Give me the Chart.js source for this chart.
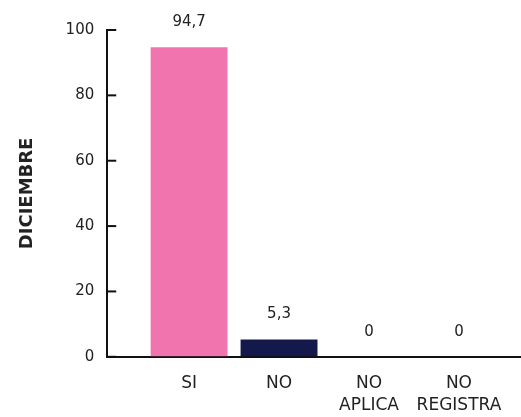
<!DOCTYPE html>
<html>
<head>
<meta charset="utf-8">
<script src="https://cdn.jsdelivr.net/npm/chart.js@4.4.0/dist/chart.umd.min.js"></script>
<style>
  html, body { margin: 0; padding: 0; background: #ffffff; }
  #wrap { width: 521px; height: 417px; }
</style>
</head>
<body>
<div id="wrap"><canvas id="c" width="521" height="417"></canvas></div>
<script>
const categories = ['SI', 'NO', 'NO APLICA', 'NO REGISTRA'];
const values = [94.7, 5.3, 0, 0];
const valueLabels = ['94,7', '5,3', '0', '0'];
const yTicks = [0, 20, 40, 60, 80, 100];
const barColors = ['#F274AE', '#131A4B', '#F274AE', '#131A4B'];
const axisTitle = 'DICIEMBRE';

const FONT = '"DejaVu Sans", "Open Sans", sans-serif';
const TEXT = '#222222';
const AXIS = '#111111';

const valueLabelPlugin = {
  id: 'valueLabels',
  afterDatasetsDraw(chart) {
    const ctx = chart.ctx;
    const meta = chart.getDatasetMeta(0);
    ctx.save();
    ctx.font = '15px ' + FONT;
    ctx.fillStyle = TEXT;
    ctx.textAlign = 'center';
    ctx.textBaseline = 'alphabetic';
    meta.data.forEach((bar, i) => {
      ctx.fillText(valueLabels[i], bar.x, bar.y - 21);
    });
    ctx.restore();
  }
};

const innerTickPlugin = {
  id: 'innerTicks',
  afterDraw(chart) {
    const ctx = chart.ctx;
    const ys = chart.scales.y;
    const left = chart.chartArea.left;
    ctx.save();
    ctx.strokeStyle = AXIS;
    ctx.lineWidth = 2;
    ys.ticks.forEach(t => {
      const y = ys.getPixelForValue(t.value);
      ctx.beginPath();
      ctx.moveTo(left, y);
      ctx.lineTo(left + 9, y);
      ctx.stroke();
    });
    ctx.restore();
  }
};

new Chart(document.getElementById('c'), {
  type: 'bar',
  data: {
    datasets: [{
      data: categories.map((c, i) => ({ x: i + 1, y: values[i] })),
      backgroundColor: barColors,
      borderWidth: 0,
      barPercentage: 0.855,
      categoryPercentage: 1
    }]
  },
  options: {
    responsive: false,
    animation: false,
    devicePixelRatio: 1,
    layout: { padding: { top: 30, right: 0, bottom: -16, left: 0 } },
    plugins: {
      legend: { display: false },
      tooltip: { enabled: false }
    },
    scales: {
      x: {
        type: 'linear',
        offset: false,
        min: 0.09,
        max: 4.69,
        afterBuildTicks(scale) {
          scale.ticks = categories.map((c, i) => ({ value: i + 1 }));
        },
        grid: { display: true, drawOnChartArea: false, drawTicks: false },
        border: { display: true, color: AXIS, width: 2 },
        ticks: {
          autoSkip: false,
          maxRotation: 0,
          padding: 16,
          color: TEXT,
          font: { family: FONT, size: 17, lineHeight: 1.3 },
          callback: (v) => {
            const lbl = categories[Math.round(v) - 1];
            return lbl ? lbl.split(' ') : '';
          }
        }
      },
      y: {
        min: 0,
        max: 100,
        afterBuildTicks(scale) {
          scale.ticks = yTicks.map(v => ({ value: v }));
        },
        grid: { display: true, drawOnChartArea: false, drawTicks: false },
        border: { display: true, color: AXIS, width: 2 },
        ticks: {
          padding: 13,
          color: TEXT,
          font: { family: FONT, size: 15 }
        },
        title: {
          display: true,
          text: axisTitle,
          color: TEXT,
          font: { family: FONT, size: 18, weight: 'bold', lineHeight: 1.2 },
          padding: { top: 17, bottom: 14 }
        }
      }
    }
  },
  plugins: [valueLabelPlugin, innerTickPlugin]
});
</script>
</body>
</html>
